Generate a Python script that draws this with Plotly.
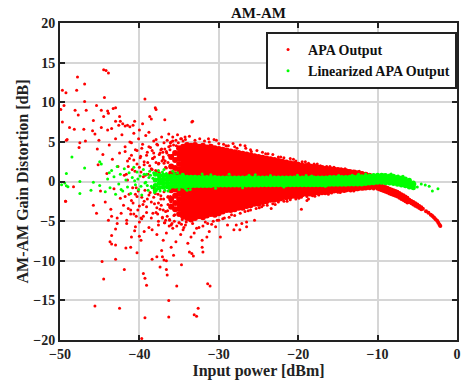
import plotly.graph_objects as go

# ---------------- data ----------------
# dense APA-output cloud, given as (input power, [gain distortion values])
red_core = [
    (-36.0, [3.1, 1.9, 1.0, -1.1, -2.2, -3.2]),
    (-35.5, [3.6, 2.7, 1.7, 0.9, -1.0, -1.8, -2.7, -3.5]),
    (-35.0, [4.2, 3.5, 2.9, 2.2, 1.5, 0.9, -0.9, -1.5, -2.2, -2.8, -3.4, -4.1]),
    (-34.5, [4.4, 3.9, 3.4, 2.9, 2.4, 1.9, 1.4, 0.9, -0.8, -1.3, -1.8, -2.3, -2.8, -3.3, -3.8, -4.4]),
    (-34.0, [4.6, 4.1, 3.6, 3.1, 2.6, 2.1, 1.6, 1.1, 0.6, -0.6, -1.1, -1.6, -2.1, -2.6, -3.1, -3.6, -4.1, -4.6]),
    (-33.5, [4.5, 4.0, 3.5, 3.0, 2.5, 2.0, 1.5, 1.0, -0.9, -1.4, -1.9, -2.4, -2.9, -3.4, -3.9, -4.4, -4.8]),
    (-33.0, [4.6, 4.1, 3.6, 3.1, 2.6, 2.1, 1.6, 1.1, 0.6, -0.6, -1.1, -1.6, -2.1, -2.6, -3.1, -3.6, -4.1, -4.6]),
    (-32.5, [4.4, 3.9, 3.4, 2.9, 2.4, 1.9, 1.4, 0.9, -0.9, -1.4, -1.9, -2.4, -2.9, -3.4, -3.9, -4.4]),
    (-32.0, [4.5, 4.0, 3.5, 3.0, 2.5, 2.0, 1.5, 1.0, 0.6, -0.6, -1.1, -1.6, -2.1, -2.6, -3.1, -3.6, -4.1, -4.5]),
    (-31.5, [4.3, 3.8, 3.3, 2.8, 2.3, 1.8, 1.3, 0.8, -0.8, -1.3, -1.8, -2.3, -2.8, -3.3, -3.8, -4.3]),
    (-31.0, [4.4, 3.9, 3.4, 2.9, 2.4, 1.9, 1.4, 0.9, -0.6, -1.1, -1.6, -2.1, -2.6, -3.1, -3.6, -4.1]),
    (-30.5, [4.2, 3.7, 3.2, 2.7, 2.2, 1.7, 1.2, 0.7, -0.8, -1.3, -1.8, -2.3, -2.8, -3.3, -3.8, -4.2]),
    (-30.0, [4.1, 3.6, 3.1, 2.6, 2.1, 1.6, 1.1, 0.6, -0.6, -1.1, -1.6, -2.1, -2.6, -3.1, -3.6, -4.0]),
    (-29.5, [4.0, 3.5, 3.0, 2.5, 2.0, 1.5, 1.0, -0.8, -1.3, -1.8, -2.3, -2.8, -3.3, -3.8]),
    (-29.0, [3.9, 3.4, 2.9, 2.4, 1.9, 1.4, 0.9, 0.6, -0.6, -1.1, -1.6, -2.1, -2.6, -3.1, -3.6]),
    (-28.5, [3.8, 3.3, 2.8, 2.3, 1.8, 1.3, 0.8, -0.8, -1.3, -1.8, -2.3, -2.8, -3.3, -3.6]),
    (-28.0, [3.7, 3.2, 2.7, 2.2, 1.7, 1.2, 0.7, -0.6, -1.1, -1.6, -2.1, -2.6, -3.1, -3.5]),
    (-27.5, [3.6, 3.1, 2.6, 2.1, 1.6, 1.1, 0.6, -0.8, -1.3, -1.8, -2.3, -2.8, -3.3]),
    (-27.0, [3.5, 3.0, 2.5, 2.0, 1.5, 1.0, -0.6, -1.1, -1.6, -2.1, -2.6, -3.1, -3.3]),
    (-26.5, [3.4, 2.9, 2.4, 1.9, 1.4, 0.9, 0.6, -0.8, -1.3, -1.8, -2.3, -2.8, -3.1]),
    (-26.0, [3.3, 2.8, 2.3, 1.8, 1.3, 0.8, -0.6, -1.1, -1.6, -2.1, -2.6, -3.0]),
    (-25.5, [3.2, 2.7, 2.2, 1.7, 1.2, 0.7, -0.8, -1.3, -1.8, -2.3, -2.8]),
    (-25.0, [3.1, 2.6, 2.1, 1.6, 1.1, 0.6, -0.6, -1.1, -1.6, -2.1, -2.6, -2.8]),
    (-24.5, [3.0, 2.5, 2.0, 1.5, 1.0, -0.8, -1.3, -1.8, -2.3, -2.6]),
    (-24.0, [2.9, 2.4, 1.9, 1.4, 0.9, 0.6, -0.6, -1.1, -1.6, -2.1, -2.5]),
    (-23.5, [2.8, 2.3, 1.8, 1.3, 0.8, -0.8, -1.3, -1.8, -2.3]),
    (-23.0, [2.7, 2.2, 1.7, 1.2, 0.7, -0.6, -1.1, -1.6, -2.1, -2.3]),
    (-22.5, [2.6, 2.1, 1.6, 1.1, 0.6, -0.8, -1.3, -1.8, -2.2]),
    (-22.0, [2.5, 2.0, 1.5, 1.0, 0.6, -0.6, -1.1, -1.6, -2.0]),
    (-21.5, [2.4, 1.9, 1.4, 0.9, -0.8, -1.3, -1.8, -2.0]),
    (-21.0, [2.3, 1.8, 1.3, 0.8, -0.6, -1.1, -1.5, -1.9]),
    (-20.5, [2.2, 1.7, 1.2, 0.7, -0.7, -1.2, -1.6, -1.8]),
    (-20.0, [2.1, 1.6, 1.1, 0.6, -0.6, -1.1, -1.5, -1.8]),
    (-19.5, [2.0, 1.5, 1.0, 0.6, -0.7, -1.2, -1.6]),
    (-19.0, [1.95, 1.5, 1.0, 0.6, -0.6, -1.1, -1.5]),
    (-18.5, [1.9, 1.4, 0.9, -0.6, -1.0, -1.5]),
    (-18.0, [1.85, 1.4, 0.9, 0.6, -0.6, -1.0, -1.45]),
    (-17.5, [1.75, 1.3, 0.8, -0.6, -1.0, -1.4]),
    (-17.0, [1.7, 1.25, 0.8, -0.6, -1.0, -1.35]),
    (-16.5, [1.6, 1.15, 0.7, -0.6, -0.95, -1.3]),
    (-16.0, [1.55, 1.1, 0.7, -0.55, -0.9, -1.2]),
    (-15.5, [1.5, 1.05, 0.65, -0.55, -0.9, -1.15]),
    (-15.0, [1.45, 1.0, 0.65, -0.55, -0.85, -1.1]),
    (-14.5, [1.35, 0.95, 0.6, -0.5, -0.85, -1.05]),
    (-14.0, [1.3, 0.9, 0.6, -0.5, -0.8, -1.0]),
    (-13.5, [1.2, 0.85, -0.5, -0.8, -0.95]),
    (-13.0, [1.15, 0.8, -0.5, -0.75, -0.9]),
    (-12.5, [1.05, 0.7, -0.5, -0.75, -0.85]),
    (-12.0, [0.95, 0.65, -0.5, -0.8]),
    (-11.5, [0.85, 0.6, -0.45, -0.75]),
    (-11.0, [0.7, -0.45, -0.7]),
    (-10.5, [0.55, -0.45, -0.7]),
]

# compression tail of the APA output near saturation
red_tail = [
    (-10.0, [-0.3, -0.6, -0.9]), (-9.75, [-0.4, -0.7, -1.0]), (-9.5, [-0.5, -0.8, -1.1]),
    (-9.25, [-0.6, -0.9, -1.2]), (-9.0, [-0.7, -1.0, -1.3]), (-8.75, [-0.8, -1.1, -1.4]),
    (-8.5, [-0.9, -1.2, -1.5]), (-8.25, [-1.0, -1.3, -1.6]), (-8.0, [-1.1, -1.4, -1.7]),
    (-7.75, [-1.2, -1.5, -1.8]), (-7.5, [-1.3, -1.6, -1.9]), (-7.25, [-1.45, -1.75, -2.05]),
    (-7.0, [-1.6, -1.9, -2.2]), (-6.75, [-1.75, -2.05, -2.35]), (-6.5, [-1.9, -2.2, -2.5]),
    (-6.25, [-2.05, -2.35, -2.65]), (-6.0, [-2.3, -2.6]), (-5.75, [-2.45, -2.75]),
    (-5.5, [-2.6, -2.9]), (-5.25, [-2.75, -3.05]), (-5.0, [-2.9, -3.2]),
    (-4.75, [-3.1, -3.35]), (-4.5, [-3.25, -3.5]), (-4.3, [-3.45]),
    (-3.9, [-3.75]), (-3.6, [-3.95]), (-3.3, [-4.2]), (-3.1, [-4.35]), (-2.9, [-4.55]),
    (-2.7, [-4.75]), (-2.5, [-4.95]), (-2.35, [-5.2]), (-2.2, [-5.45]), (-2.1, [-5.6]),
]

# scattered APA-output points
red_scatter_x = [
    -49.7, -49.25, -49.9, -49.5, -49.7, -49.1, -48.8, -48.2, -47.8, -47.9, -48.1, -47.7, -47.6,
    -46.9, -46.9, -46.7, -47.0, -46.8, -47.5, -44.5, -44.2, -43.9, -44.4, -45.4, -44.8, -44.0,
    -44.5, -43.9, -43.3, -43.0, -45.8, -45.6, -45.9, -45.1, -45.3, -44.8, -44.0, -43.5, -43.0,
    -42.5, -42.4, -42.6, -42.1, -41.8, -41.5, -41.2, -40.6, -40.8, -40.0, -39.3, -38.0, -37.9,
    -38.7, -38.5, -36.8, -33.4, -33.3, -39.6, -38.8, -49.2, -48.3, -49.3,
    -45.2, -44.9, -44.6, -44.3, -44.1, -43.8, -43.6, -43.4, -43.2, -43.0, -42.8, -42.7, -42.5,
    -42.4, -42.2, -42.0, -41.9, -41.8, -41.6, -41.5, -41.3, -41.2, -41.1, -41.0, -40.9, -40.8,
    -40.7, -40.6, -40.5, -40.4, -40.3, -40.2, -40.1, -40.0, -39.9, -39.8, -39.7, -39.6, -39.5,
    -39.4, -39.3, -39.2, -39.1, -39.0, -38.9, -38.8, -38.7, -38.6, -38.5, -38.4, -38.3, -38.2,
    -38.1, -38.0, -37.9, -37.8, -37.7, -37.6, -37.5, -37.4, -37.3, -37.2, -37.1, -37.0, -36.9,
    -36.8, -36.7, -36.6, -36.5, -36.4, -36.3, -36.2, -36.1, -36.0, -37.3, -38.2, -39.5, -40.5,
    -41.5, -39.0, -38.4, -37.6, -36.9, -36.4,
    -45.4, -45.8, -43.5, -43.9, -43.0, -43.5, -42.8, -42.3, -41.6, -41.1, -40.4, -40.5, -39.8,
    -39.4, -40.0, -38.4, -37.8, -37.6, -37.0, -36.6, -35.8, -35.4, -34.8, -34.5, -33.9, -33.5,
    -33.1, -32.8, -31.2, -30.4, -28.9, -28.1, -27.1,
    -49.3, -45.6, -42.5, -44.7, -44.5, -41.9, -43.0, -43.7, -43.5, -43.0, -41.7, -41.1, -41.0,
    -40.3, -39.8, -39.5, -39.3, -39.1, -39.3, -39.7, -36.3, -36.3, -32.6, -33.1, -32.8, -35.3,
    -31.4, -31.1, -34.7, -36.6, -36.5, -37.1, -36.9, -36.6, -37.2, -35.7, -36.0, -33.7, -33.4,
    -33.2, -32.1, -32.0, -32.1, -31.5, -29.8, -38.4, -37.8, -37.4,
    -27.35, -27.8, -26.5, -26.5, -25.5, -24.4, -23.4, -22.1, -19.6, -18.9, -18.7, -15.6, -13.4,
    -36.3, -35.8, -35.2, -34.7, -34.2, -33.7, -33.0, -32.4, -31.8, -31.2, -30.6, -30.0, -29.4,
    -28.8, -28.0, -27.3, -26.6, -26.0, -25.2, -24.5, -23.8, -23.2, -22.5, -21.8, -21.0, -20.3,
    -19.5, -18.7, -18.0, -17.2, -16.4, -15.5, -14.6, -13.7, -12.8, -11.9, -11.0, -28.2, -26.7,
    -31.3, -30.3,
    -32.0, -31.4, -30.7, -30.0, -29.3, -28.7, -28.0, -27.3, -26.7, -26.0, -25.3, -24.6, -23.9,
    -23.2, -22.5, -21.8, -21.0, -20.3, -19.6, -18.9, -18.2, -17.4, -16.6, -15.8, -15.0, -14.2,
    -13.4, -12.6, -11.8, -11.0, -10.5, -35.0, -34.2, -33.3, -32.5, -31.7, -30.9, -30.2, -29.5,
    # build-up of the cloud between -42 and -34 dBm
    -41.8, -41.4, -41.0, -40.7, -40.3, -40.0, -39.7, -39.4, -39.1, -38.8, -38.5, -38.2, -37.9,
    -37.6, -37.3, -37.0, -36.7, -36.4, -36.1, -35.8,
    -41.8, -41.4, -41.0, -40.7, -40.3, -40.0, -39.7, -39.4, -39.1, -38.8, -38.5, -38.2, -37.9,
    -37.6, -37.3, -37.0, -36.7, -36.4, -36.1, -35.8,
    -41.65, -41.25, -40.85, -40.55, -40.15, -39.85, -39.55, -39.25, -38.95, -38.65, -38.35,
    -38.05, -37.75, -37.45, -37.15, -36.85, -36.55, -36.25, -35.95, -35.65,
    -37.8, -37.5, -37.2, -36.9, -36.6, -36.3, -36.0, -35.7, -35.4, -35.1, -34.8, -34.5,
    -37.7, -37.4, -37.1, -36.8, -36.5, -36.2, -35.9, -35.6, -35.3, -35.0, -34.7, -34.4,
    -38.3, -37.95, -37.55, -37.05, -36.75, -36.15, -35.85, -35.35, -34.95, -34.25,
    -38.1, -37.65, -37.25, -36.95, -36.45, -36.05, -35.55, -35.15, -34.6, -34.1,
    # extra ragged points along the edges of the dense cloud
    -29.1, -27.7, -25.9, -24.1, -22.2, -20.6, -19.1, -17.6, -16.0, -14.1, -12.3,
    -28.4, -26.3, -24.9, -22.9, -21.4, -19.9, -17.9, -16.2, -14.7, -13.0,
]
red_scatter_y = [
    11.5, 11.2, 9.1, 9.6, 7.5, 5.3, 6.8, 6.6, 13.2, 11.5, 9.0, 8.4, 4.3,
    12.3, 10.1, 9.0, 6.6, 5.1, 4.9, 14.1, 14.0, 13.7, 10.6, 9.6, 9.0, 8.9,
    8.2, 8.6, 9.2, 9.3, 7.7, 6.0, 6.4, 5.2, 4.1, 6.8, 6.5, 6.7, 7.6,
    8.2, 7.6, 7.1, 7.3, 7.0, 7.1, 6.9, 7.6, 7.1, 6.5, 10.4, 9.3, 9.1,
    8.2, 7.9, 7.8, 7.5, 7.6, 7.3, 6.2, 5.2, -0.65, -2.5,
    2.1, -1.2, 3.4, -2.6, 1.0, 4.6, -3.5, 2.8, -0.9, 5.4, -4.6, 1.9, 3.6,
    -2.1, 5.9, -3.0, 0.8, 4.4, -5.3, 2.6, -1.6, 5.0, -4.1, 3.3, 1.5, -2.7,
    6.1, -6.2, 4.0, -0.8, 2.2, -3.6, 5.4, -5.1, 3.0, 1.2, -2.0, 4.7, -4.4,
    2.5, -1.1, 5.8, -3.2, 3.7, 0.9, -5.8, 2.0, 4.3, -2.6, 1.5, -4.0, 5.1,
    3.1, -1.5, 2.4, -3.3, 4.6, -5.0, 1.1, 3.6, -2.2, 5.6, -4.5, 2.8, -1.3,
    4.1, -3.8, 1.7, 5.2, -2.9, 3.3, -4.8, 4.5, -5.5, 0.8, -0.8, 0.6, -1.6,
    0.2, -2.2, 3.9, -0.7, 2.3, -1.9,
    -4.0, -3.0, -4.4, -4.9, -6.0, -6.8, -5.3, -4.0, -4.9, -3.6, -4.4, -5.7, -4.6,
    -6.3, -6.9, -6.1, -6.7, -5.5, -7.4, -6.5, -5.9, -7.6, -6.7, -6.1, -7.8, -7.0,
    -6.5, -5.9, -6.3, -5.7, -5.5, -6.1, -5.3,
    -2.5, -15.7, -16.0, -10.1, -12.3, -11.1, -9.8, -7.6, -7.9, -8.0, -8.4, -8.3, -7.0,
    -9.0, -7.4, -11.6, -12.2, -13.1, -17.2, -19.8, -15.0, -17.1, -16.0, -16.8, -17.0, -13.2,
    -12.9, -13.2, -10.5, -11.1, -11.8, -9.5, -9.9, -10.0, -8.7, -9.3, -8.3, -8.9, -9.1,
    -9.4, -8.3, -8.9, -7.4, -7.0, -7.0, -9.8, -9.5, -10.8,
    -6.1, -5.5, -5.7, -5.1, -4.9, -3.0, -3.4, -2.3, -3.5, -2.4, -2.2, -1.2, -1.2,
    6.0, 5.6, 5.9, 5.4, 5.3, 5.7, 5.2, 5.4, 5.1, 5.0, 5.3, 4.8, 4.7,
    4.5, 4.4, 4.6, 4.2, 4.0, 3.9, 3.7, 3.5, 3.4, 3.1, 3.0, 2.9, 2.6,
    2.5, 2.3, 2.2, 2.0, 1.9, 1.8, 1.6, 1.4, 1.3, 1.1, 0.9, 4.8, 4.5,
    5.4, 5.2,
    -5.6, -5.3, -5.0, -4.9, -4.6, -4.5, -4.3, -4.0, -3.8, -3.6, -3.4, -3.2, -3.0,
    -2.8, -2.6, -2.5, -2.3, -2.2, -2.0, -1.9, -1.8, -1.7, -1.55, -1.45, -1.35, -1.25,
    -1.15, -1.05, -0.95, -0.9, -0.95, -5.2, -5.5, -5.3, -5.8, -5.1, -5.4, -4.9, -4.7,
    3.8, 1.9, 4.9, 2.7, 3.9, 1.8, 4.2, 2.1, 3.3, 4.4, 1.6, 3.6, 5.3,
    2.2, 4.0, 3.1, 1.8, 2.4, 4.9, 5.1,
    -1.9, -3.4, -2.4, -4.1, -1.9, -3.1, -4.7, -2.5, -3.9, -1.7, -4.6, -2.0, -3.9,
    -2.7, -1.8, -3.6, -4.9, -2.0, -1.9, -3.2,
    0.9, 2.9, -0.8, 1.3, -1.2, 3.2, -2.9, 0.8, 2.4, -1.4, 2.9, -0.9, 1.3,
    -0.7, 2.6, -5.2, 3.6, -5.6, 1.1, -4.3,
    4.7, 3.4, 4.1, 4.9, 3.8, 4.4, 5.0, 4.6, 5.2, 4.9, 5.4, 5.1,
    -4.1, -3.5, -4.6, -5.2, -4.4, -4.9, -5.3, -5.0, -5.6, -5.2, -5.4, -5.8,
    2.9, 1.4, 2.3, 3.7, 2.6, 4.0, 3.3, 4.5, 3.9, 5.6,
    -2.8, -1.6, -3.0, -2.2, -3.7, -2.6, -4.2, -3.4, -4.8, -5.1,
    4.5, 4.2, 3.8, 3.5, 3.1, 2.8, 2.5, 2.2, 1.9, 1.6, 1.3,
    -4.2, -3.7, -3.3, -2.9, -2.5, -2.1, -1.85, -1.6, -1.4, -1.2,
]

# dense linearized-output band
green_core = [
    (-38.0, [0.9, 0.2, -0.5, -1.1]), (-37.5, [0.8, 0.3, -0.2, -0.8]),
    (-37.0, [0.8, 0.3, -0.2, -0.7]), (-36.5, [0.7, 0.25, -0.2, -0.65]),
    (-36.0, [0.65, 0.25, -0.2, -0.6]), (-35.5, [0.6, 0.2, -0.2, -0.6]),
    (-35.0, [0.6, 0.2, -0.2, -0.6]), (-34.5, [0.6, 0.2, -0.2, -0.6]),
    (-34.0, [0.55, 0.2, -0.15, -0.55]), (-33.5, [0.55, 0.2, -0.15, -0.55]),
    (-33.0, [0.55, 0.2, -0.15, -0.5]), (-32.5, [0.5, 0.2, -0.15, -0.5]),
    (-32.0, [0.5, 0.15, -0.15, -0.5]), (-31.5, [0.5, 0.15, -0.15, -0.5]),
    (-31.0, [0.5, 0.15, -0.15, -0.5]), (-30.5, [0.5, 0.15, -0.15, -0.45]),
    (-30.0, [0.45, 0.15, -0.15, -0.45]), (-29.5, [0.45, 0.15, -0.15, -0.45]),
    (-29.0, [0.45, 0.15, -0.15, -0.45]), (-28.5, [0.45, 0.15, -0.15, -0.45]),
    (-28.0, [0.45, 0.15, -0.15, -0.45]), (-27.5, [0.45, 0.15, -0.15, -0.45]),
    (-27.0, [0.45, 0.15, -0.15, -0.45]), (-26.5, [0.45, 0.15, -0.15, -0.45]),
    (-26.0, [0.45, 0.15, -0.15, -0.45]), (-25.5, [0.45, 0.15, -0.15, -0.45]),
    (-25.0, [0.45, 0.15, -0.15, -0.45]), (-24.5, [0.45, 0.15, -0.15, -0.4]),
    (-24.0, [0.45, 0.15, -0.15, -0.4]), (-23.5, [0.45, 0.15, -0.15, -0.4]),
    (-23.0, [0.45, 0.15, -0.15, -0.4]), (-22.5, [0.45, 0.15, -0.15, -0.4]),
    (-22.0, [0.45, 0.15, -0.15, -0.4]), (-21.5, [0.45, 0.15, -0.15, -0.4]),
    (-21.0, [0.45, 0.15, -0.15, -0.4]), (-20.5, [0.45, 0.15, -0.15, -0.4]),
    (-20.0, [0.45, 0.15, -0.15, -0.4]), (-19.5, [0.45, 0.15, -0.15, -0.4]),
    (-19.0, [0.45, 0.15, -0.15, -0.4]), (-18.5, [0.45, 0.15, -0.15, -0.4]),
    (-18.0, [0.45, 0.15, -0.15, -0.4]), (-17.5, [0.45, 0.15, -0.15, -0.4]),
    (-17.0, [0.45, 0.15, -0.15, -0.4]), (-16.5, [0.45, 0.15, -0.15, -0.4]),
    (-16.0, [0.5, 0.2, -0.1, -0.35]), (-15.5, [0.5, 0.2, -0.1, -0.35]),
    (-15.0, [0.5, 0.2, -0.1, -0.35]), (-14.5, [0.5, 0.2, -0.1, -0.35]),
    (-14.0, [0.5, 0.2, -0.1, -0.35]), (-13.5, [0.55, 0.25, -0.05, -0.3]),
    (-13.0, [0.55, 0.25, -0.05, -0.3]), (-12.5, [0.6, 0.3, 0.0, -0.3]),
    (-12.0, [0.6, 0.3, 0.0, -0.3]), (-11.5, [0.65, 0.35, 0.05, -0.25]),
    (-11.0, [0.7, 0.4, 0.1, -0.2]), (-10.5, [0.75, 0.45, 0.15, -0.15]),
    (-10.0, [0.8, 0.5, 0.2, -0.1]), (-9.5, [0.8, 0.5, 0.2, -0.1]),
    (-9.0, [0.75, 0.45, 0.15, -0.15]), (-8.5, [0.7, 0.4, 0.1, -0.2]),
    (-8.0, [0.65, 0.35, 0.05, -0.25]), (-7.5, [0.55, 0.25, -0.05, -0.35]),
    (-7.0, [0.45, 0.15, -0.15, -0.45]), (-6.5, [0.3, 0.0, -0.3, -0.55]),
    (-6.0, [0.15, -0.15, -0.45, -0.7]), (-5.5, [-0.2, -0.5, -0.8]),
]

# scattered linearized-output points
green_scatter_x = [
    -48.5, -46.9, -49.2, -49.4, -49.2, -49.0, -47.5, -47.5, -46.1, -45.8, -45.0, -45.0, -44.8,
    -49.8, -44.3, -44.0, -43.7, -43.5, -43.2, -43.0, -42.8, -42.6, -42.4, -42.1, -41.9, -41.7,
    -41.5, -41.3, -41.1, -40.9, -40.7, -40.5, -40.3, -40.1, -39.9, -39.7, -39.5, -39.3, -39.1,
    -38.9, -38.7, -38.5, -38.3, -38.1, -37.9, -37.7, -37.5, -37.3, -37.1, -43.8, -42.3, -40.6,
    -39.0, -38.6, -38.0, -37.4,
    -35.2, -33.6, -32.1, -30.4, -28.7, -27.0, -25.4, -23.5, -21.8, -20.1, -18.3, -16.6, -14.9,
    -13.2, -11.5, -36.4, -35.8, -34.5, -36.9, -34.0, -31.0, -26.2, -19.0, -12.4,
    -9.2, -7.4, -4.0, -3.5, -3.1, -2.4, -4.5, -5.0, -5.3, -8.3, -6.8,
    -40.2, -39.8, -39.4, -39.2, -38.8, -38.4, -38.2, -37.8, -37.6, -37.2, -36.8, -36.6, -36.2,
    -35.6, -35.0, -34.6, -34.2,
]
green_scatter_y = [
    3.1, 1.7, 1.0, -0.2, -0.55, -0.65, 0.0, -1.5, -1.1, -0.1, -0.5, 2.5, 2.2,
    -0.4, -1.3, 0.3, -0.8, 1.4, 0.6, -1.6, 1.9, -0.3, 0.9, -1.2, 1.6, 0.2,
    -0.7, 1.1, -1.5, 0.5, 1.8, -0.4, 1.2, -1.0, 0.7, -1.7, 1.5, -0.2, 0.9,
    -1.1, 1.3, -0.6, 0.4, -1.4, 1.0, -0.9, 0.6, -0.3, 1.2, 1.1, -1.0, 0.1,
    -0.5, 0.8, 0.2, -1.2,
    1.1, -1.0, 0.95, -0.85, 0.9, -0.8, 0.85, 0.75, -0.7, 0.8, 0.7, -0.6, 0.75,
    0.8, 0.95, -1.2, 1.3, 0.9, 1.5, -1.1, 0.85, 0.8, 0.75, 0.9,
    0.86, 0.7, -0.44, -0.6, -1.2, -0.9, -0.3, -0.7, -0.3, 0.95, 0.65,
    0.3, -0.6, 0.9, -0.1, 0.5, -0.8, 1.1, -0.4, 1.4, 0.0, -1.1, 1.0, -0.9,
    1.0, -1.0, 0.9, -0.9,
]

x_ticks = [-50, -40, -30, -20, -10, 0]
y_ticks = [-20, -15, -10, -5, 0, 5, 10, 15, 20]

RED = "#ff0000"
GREEN = "#00ff00"
FONT = "Liberation Serif"


def flatten(cols):
    xs, ys = [], []
    for x, col in cols:
        xs.extend([x] * len(col))
        ys.extend(col)
    return xs, ys


rcx, rcy = flatten(red_core)
rtx, rty = flatten(red_tail)
gcx, gcy = flatten(green_core)

fig = go.Figure()
fig.add_trace(go.Scatter(x=red_scatter_x, y=red_scatter_y, mode="markers", name="APA Output",
                         legendgroup="apa", marker=dict(color=RED, size=3)))
fig.add_trace(go.Scatter(x=rcx, y=rcy, mode="markers", legendgroup="apa", showlegend=False,
                         marker=dict(color=RED, size=6)))
fig.add_trace(go.Scatter(x=rtx, y=rty, mode="markers", legendgroup="apa", showlegend=False,
                         marker=dict(color=RED, size=4)))
fig.add_trace(go.Scatter(x=gcx, y=gcy, mode="markers", legendgroup="lin", showlegend=False,
                         marker=dict(color=GREEN, size=5)))
fig.add_trace(go.Scatter(x=green_scatter_x, y=green_scatter_y, mode="markers",
                         name="Linearized APA Output", legendgroup="lin",
                         marker=dict(color=GREEN, size=3)))

axis_common = dict(
    showline=True, linecolor="#222", linewidth=2, mirror="ticks",
    ticks="inside", ticklen=5, tickwidth=1.5, tickcolor="#222",
    showgrid=True, gridcolor="#d6d6d6", gridwidth=1.5, zeroline=False,
    tickfont=dict(family=FONT, size=14, color="#222", weight="bold"),
)

fig.update_xaxes(range=[-50, 0], tickvals=x_ticks,
                 title=dict(text="Input power [dBm]", standoff=3,
                            font=dict(family=FONT, size=16, color="#222", weight="bold")),
                 **axis_common)
fig.update_yaxes(range=[-20, 20], tickvals=y_ticks,
                 title=dict(text="AM-AM Gain Distortion [dB]", standoff=1,
                            font=dict(family=FONT, size=16, color="#222", weight="bold")),
                 **axis_common)

fig.update_layout(
    width=468, height=384,
    margin=dict(l=60, r=7, t=23, b=44),
    paper_bgcolor="white", plot_bgcolor="white",
    title=dict(text="AM-AM", x=0.5, xref="paper", xanchor="center", y=0.968, yanchor="middle",
               font=dict(family=FONT, size=15, color="#111", weight="bold")),
    legend=dict(x=0.519, y=0.972, xanchor="left", yanchor="top",
                bgcolor="white", bordercolor="#222", borderwidth=2,
                font=dict(family=FONT, size=14, color="#111", weight="bold"),
                itemwidth=30, tracegroupgap=0),
    showlegend=True,
)

fig.write_html("out.html")
